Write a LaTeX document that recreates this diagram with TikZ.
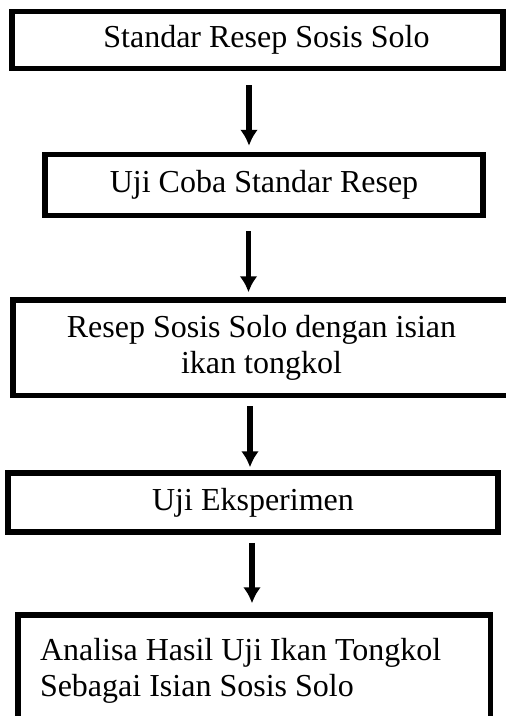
\documentclass[tikz,border=0pt]{standalone}
\usepackage{fontspec}
\setmainfont{Liberation Serif}
\usetikzlibrary{arrows.meta, positioning}
\tikzset{larrow/.style = {-{Latex[length=16pt,width=18pt]}, line width=5.5pt, shorten <=9pt, shorten >=5pt},
         stepbox/.style = {draw, line width=5.5pt, rectangle, align=center, inner sep=0pt,
                           font=\fontsize{32pt}{36pt}\selectfont}}

\begin{document}
\begin{tikzpicture}[x=1pt, y=-1pt]
    \clip (0,0) rectangle (506,716);
    \node[stepbox, minimum width=491pt, minimum height=57pt] (resep) at (257.5,40) {\hspace*{18pt}Standar Resep Sosis Solo};
    \node[stepbox, minimum width=438pt, minimum height=61pt] (ujicoba) at (264,185) {Uji Coba Standar Resep};
    \node[stepbox, minimum width=497pt, minimum height=95.5pt] (tongkol) at (261.5,347.75) {Resep Sosis Solo dengan isian\\ikan tongkol};
    \node[stepbox, minimum width=490pt, minimum height=59pt] (eksperimen) at (253,502.5) {Uji Eksperimen};
    \node[stepbox, anchor=north, align=flush left, text width=428.5pt, inner xsep=22pt, inner ysep=23pt] (analisa) at (254.25,612.25) {Analisa Hasil Uji Ikan Tongkol\\Sebagai Isian Sosis Solo};

    \draw[larrow, shorten <=14pt, shorten >=6pt] ([xshift=-8.5pt]resep.south) to ([xshift=-15pt]ujicoba.north);
    \draw[larrow, shorten <=13pt] ([xshift=-15.5pt]ujicoba.south) to ([xshift=-13pt]tongkol.north);
    \draw[larrow, shorten <=8pt, shorten >=3pt] ([xshift=-11.5pt]tongkol.south) to ([xshift=-3pt]eksperimen.north);
    \draw[larrow, shorten <=8pt, shorten >=9pt] ([xshift=-1pt]eksperimen.south) to ([xshift=-2.25pt]analisa.north);
\end{tikzpicture}
\end{document}
